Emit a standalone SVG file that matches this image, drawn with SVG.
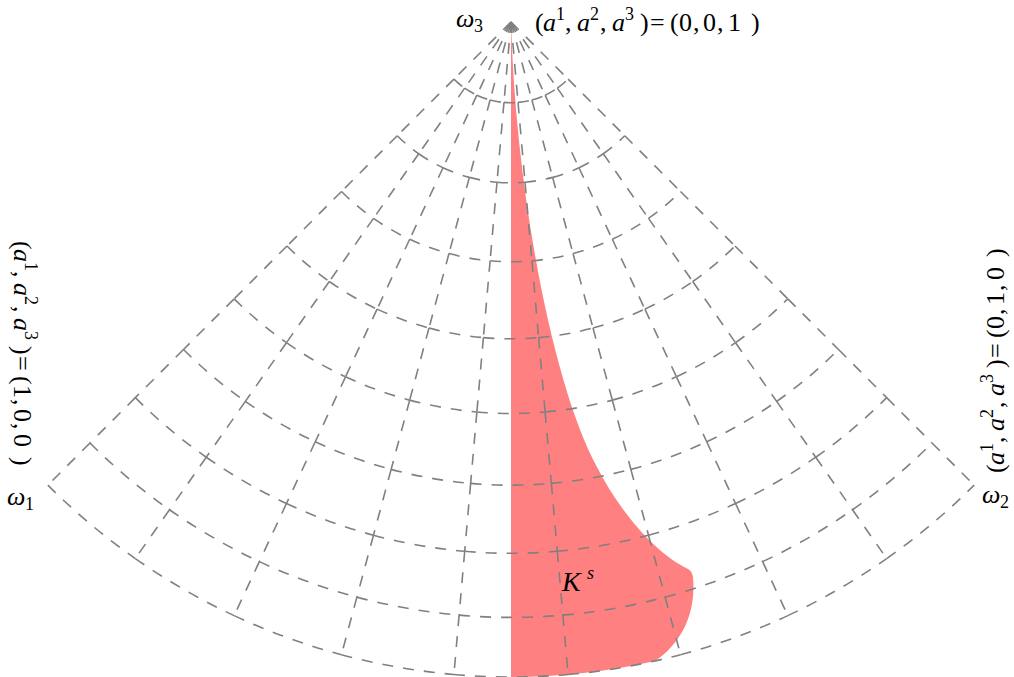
<svg xmlns="http://www.w3.org/2000/svg" width="1014" height="677" viewBox="0 0 1014 677">
<style>
.grid{fill:none;stroke:#808080;stroke-width:1.6;stroke-dasharray:11 10}
.t{font-family:"Liberation Serif","DejaVu Serif",serif;fill:#000;font-size:26px}
.i{font-style:italic}
.s{font-size:18px}
</style>
<defs>
<path id="mer" d="M511 22L453.92 79.08M453.92 79.08L397.26 135.74M397.26 135.74L341.48 191.52M341.48 191.52L286.98 246.02M286.98 246.02L234.19 298.81M234.19 298.81L183.5 349.5M183.5 349.5L135.31 397.69M135.31 397.69L89.98 443.02M89.98 443.02L47.85 485.15"/>
<path id="arcs" d="M453.92 79.08A80.73 80.73 0 0 0 464.7 88.13M397.26 135.74A160.85 160.85 0 0 0 418.74 153.76M341.48 191.52A239.74 239.74 0 0 0 373.49 218.38M286.98 246.02A316.81 316.81 0 0 0 329.28 281.51M234.19 298.81A391.47 391.47 0 0 0 286.46 342.67M183.5 349.5A463.15 463.15 0 0 0 245.35 401.39M135.31 397.69A531.3 531.3 0 0 0 206.26 457.22M89.98 443.02A595.41 595.41 0 0 0 169.49 509.73M47.85 485.15A655 655 0 0 0 135.31 558.54"/>
</defs>
<g id="region-Ks">
<path fill="#ff8080" d="M511 22C516 200 555 390 597 467C620 512 655 553 688 569Q692 571 693 577C696 612 683 642 655 661A655 655 0 0 1 511 677Z"/>
</g>
<g id="connectors" class="grid">
<use href="#mer"/>
<use href="#mer" transform="rotate(-10 511 22)"/>
<use href="#mer" transform="rotate(-20 511 22)"/>
<use href="#mer" transform="rotate(-30 511 22)"/>
<use href="#mer" transform="rotate(-40 511 22)"/>
<use href="#mer" transform="rotate(-50 511 22)"/>
<use href="#mer" transform="rotate(-60 511 22)"/>
<use href="#mer" transform="rotate(-70 511 22)"/>
<use href="#mer" transform="rotate(-80 511 22)"/>
<use href="#mer" transform="rotate(-90 511 22)"/>
<use href="#arcs"/>
<use href="#arcs" transform="rotate(-10 511 22)"/>
<use href="#arcs" transform="rotate(-20 511 22)"/>
<use href="#arcs" transform="rotate(-30 511 22)"/>
<use href="#arcs" transform="rotate(-40 511 22)"/>
<use href="#arcs" transform="rotate(-50 511 22)"/>
<use href="#arcs" transform="rotate(-60 511 22)"/>
<use href="#arcs" transform="rotate(-70 511 22)"/>
<use href="#arcs" transform="rotate(-80 511 22)"/>
</g>
<g id="node-omega3">
<text class="t"><tspan class="i" x="456" y="27">ω</tspan><tspan class="s" x="474" y="32">3</tspan></text>
</g>
<g id="node-omega1">
<text class="t"><tspan class="i" x="7" y="505">ω</tspan><tspan class="s" x="25" y="510">1</tspan></text>
</g>
<g id="node-omega2">
<text class="t"><tspan class="i" x="982" y="503">ω</tspan><tspan class="s" x="1000" y="508">2</tspan></text>
</g>
<g id="label-top" transform="translate(534,31)">
<text class="t"><tspan x="1" y="0">(</tspan><tspan class="i" x="9">a</tspan><tspan class="s" x="22" y="-11">1</tspan><tspan x="31" y="0">,</tspan><tspan class="i" x="43">a</tspan><tspan class="s" x="56" y="-11">2</tspan><tspan x="66" y="0">,</tspan><tspan class="i" x="78">a</tspan><tspan class="s" x="91" y="-11">3</tspan><tspan x="106" y="0">)</tspan><tspan x="116">=</tspan><tspan x="136">(</tspan><tspan x="145">0</tspan><tspan x="159">,</tspan><tspan x="169">0</tspan><tspan x="183">,</tspan><tspan x="194">1</tspan><tspan x="217">)</tspan></text>
</g>
<g id="label-left" transform="translate(14,240) rotate(90)">
<text class="t"><tspan x="1" y="0">(</tspan><tspan class="i" x="9">a</tspan><tspan class="s" x="22" y="-11">1</tspan><tspan x="31" y="0">,</tspan><tspan class="i" x="43">a</tspan><tspan class="s" x="56" y="-11">2</tspan><tspan x="66" y="0">,</tspan><tspan class="i" x="78">a</tspan><tspan class="s" x="91" y="-11">3</tspan><tspan x="106" y="0">)</tspan><tspan x="116">=</tspan><tspan x="136">(</tspan><tspan x="145">1</tspan><tspan x="159">,</tspan><tspan x="169">0</tspan><tspan x="183">,</tspan><tspan x="194">0</tspan><tspan x="217">)</tspan></text>
</g>
<g id="label-right" transform="translate(1004,474) rotate(-90)">
<text class="t"><tspan x="1" y="0">(</tspan><tspan class="i" x="9">a</tspan><tspan class="s" x="22" y="-11">1</tspan><tspan x="31" y="0">,</tspan><tspan class="i" x="43">a</tspan><tspan class="s" x="56" y="-11">2</tspan><tspan x="66" y="0">,</tspan><tspan class="i" x="78">a</tspan><tspan class="s" x="91" y="-11">3</tspan><tspan x="106" y="0">)</tspan><tspan x="116">=</tspan><tspan x="136">(</tspan><tspan x="145">0</tspan><tspan x="159">,</tspan><tspan x="169">1</tspan><tspan x="183">,</tspan><tspan x="194">0</tspan><tspan x="217">)</tspan></text>
</g>
<g id="label-Ks">
<text class="t"><tspan class="i" x="562" y="591" style="font-size:28px">K</tspan><tspan class="i s" x="587" y="579">s</tspan></text>
</g>
</svg>
